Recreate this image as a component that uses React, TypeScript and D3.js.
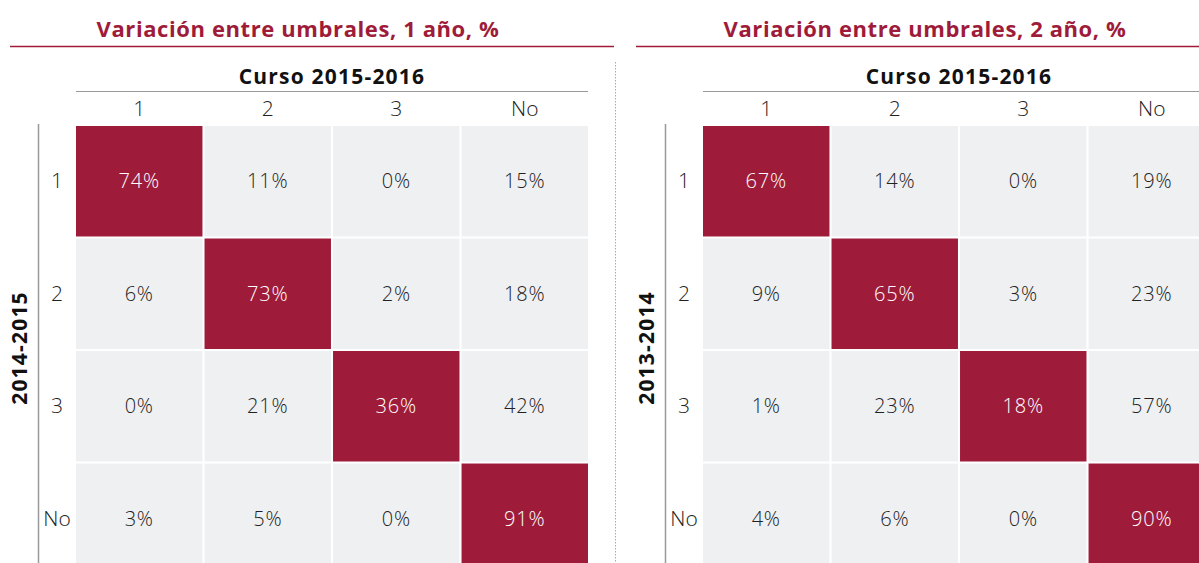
import React from "react";
import * as d3 from "d3";

const categories = ["1", "2", "3", "No"];
const valuesOneYear = [
  [74, 11, 0, 15],
  [6, 73, 2, 18],
  [0, 21, 36, 42],
  [3, 5, 0, 91],
];
const valuesTwoYears = [
  [67, 14, 0, 19],
  [9, 65, 3, 23],
  [1, 23, 18, 57],
  [4, 6, 0, 90],
];
const titles = ["Variación entre umbrales, 1 año, %", "Variación entre umbrales, 2 año, %"];
const colTitle = "Curso 2015-2016";
const rowTitles = ["2014-2015", "2013-2014"];

const width = 1199;
const height = 563;
const red = "#9e1c3a";
const cellGray = "#eff0f2";
const font = "'Open Sans', sans-serif";

function Panel({ offset, values, title, rowTitle, lineStart, lineEnd }: any) {
  const x = d3.scaleBand().domain(categories).range([offset + 76, offset + 588]).paddingInner(0.016);
  const y = d3.scaleBand().domain(categories).range([126, 574]).paddingInner(0.018);
  const [x0, x1] = x.range();
  const cx = (x0 + x1) / 2;
  return (
    <g>
      <text x={cx - 34} y={37} textAnchor="middle" fill={red} fontWeight={700} fontSize={22} letterSpacing={0.6} fontFamily={font}>
        {title}
      </text>
      <line x1={lineStart} x2={lineEnd} y1={46.5} y2={46.5} stroke={red} strokeWidth={1.5} />
      <text x={cx} y={84} textAnchor="middle" fill="#111" fontWeight={700} fontSize={21} letterSpacing={1.2} fontFamily={font}>
        {colTitle}
      </text>
      <line x1={x0} x2={Math.min(x1, width)} y1={91.5} y2={91.5} stroke="#999" strokeWidth={1} />
      {categories.map((c) => (
        <text key={c} x={x(c)! + x.bandwidth() / 2} y={116} textAnchor="middle" fill="#222" fontSize={21} fontFamily={font} fontWeight={300}>
          {c}
        </text>
      ))}
      <line x1={offset + 38.5} x2={offset + 38.5} y1={124} y2={height} stroke="#999" strokeWidth={1.5} />
      <text
        transform={`translate(${offset + 27},${348}) rotate(-90)`}
        textAnchor="middle"
        fill="#111"
        fontWeight={700}
        fontSize={21}
        letterSpacing={1.2}
        fontFamily={font}
      >
        {rowTitle}
      </text>
      {categories.map((r) => (
        <text key={r} x={offset + 57} y={y(r)! + y.bandwidth() / 2 + 7} textAnchor="middle" fill="#222" fontSize={21} fontFamily={font} fontWeight={300}>
          {r}
        </text>
      ))}
      {values.map((row: number[], i: number) =>
        row.map((v: number, j: number) => {
          const diag = i === j;
          return (
            <g key={`${i}-${j}`}>
              <rect x={x(categories[j])} y={y(categories[i])} width={x.bandwidth()} height={y.bandwidth()} fill={diag ? red : cellGray} />
              <text
                x={x(categories[j])! + x.bandwidth() / 2}
                y={y(categories[i])! + y.bandwidth() / 2 + 7}
                textAnchor="middle"
                fill={diag ? "#fff" : "#222"}
                fontSize={20}
                letterSpacing={0.8}
                fontFamily={font}
                fontWeight={300}
              >
                {v}%
              </text>
            </g>
          );
        })
      )}
    </g>
  );
}

export default function App() {
  return (
    <svg width={width} height={height} style={{ position: "absolute", left: 0, top: 0, background: "#fff" }}>
      <Panel offset={0} values={valuesOneYear} title={titles[0]} rowTitle={rowTitles[0]} lineStart={10} lineEnd={614} />
      <line x1={615.5} x2={615.5} y1={62} y2={height} stroke="#aaa" strokeWidth={1} strokeDasharray="1.5,1.5" />
      <Panel offset={627} values={valuesTwoYears} title={titles[1]} rowTitle={rowTitles[1]} lineStart={636} lineEnd={width} />
    </svg>
  );
}
